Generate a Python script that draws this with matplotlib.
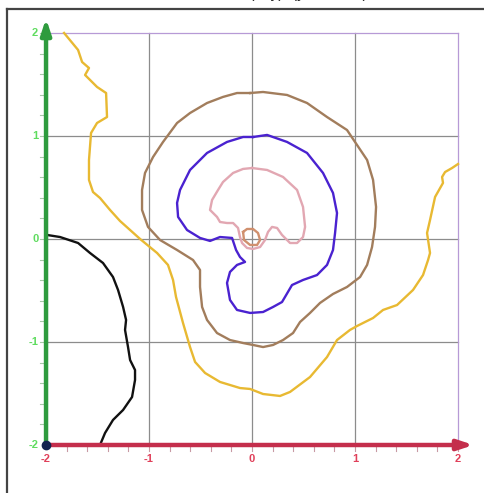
import matplotlib
matplotlib.use("Agg")
import matplotlib.pyplot as plt
from matplotlib.lines import Line2D

plt.rcParams['font.family'] = ['Liberation Sans', 'DejaVu Sans']

# ---- data: contour traces (x, y) ----
yellow_x = [-1.825, -1.689, -1.650, -1.583, -1.621, -1.505, -1.417, -1.408, -1.505, -1.563, -1.583, -1.583,
            -1.544, -1.476, -1.379, -1.282, -1.087, -0.922, -0.816, -0.767, -0.738, -0.670, -0.602, -0.553,
            -0.456, -0.311, -0.117, -0.019, 0.107, 0.272, 0.369, 0.563, 0.728, 0.825, 0.951, 1.019, 1.175,
            1.272, 1.408, 1.563, 1.660, 1.709, 1.728, 1.699, 1.728, 1.777, 1.854, 1.845, 1.874, 1.942, 2.0]
yellow_y = [2.0, 1.835, 1.718, 1.660, 1.592, 1.476, 1.417, 1.184, 1.126, 1.029, 0.767, 0.573,
            0.456, 0.398, 0.282, 0.175, 0.0, -0.136, -0.252, -0.398, -0.563, -0.816, -1.049, -1.194,
            -1.301, -1.388, -1.447, -1.456, -1.505, -1.524, -1.485, -1.340, -1.146, -0.981, -0.883, -0.845, -0.767,
            -0.689, -0.641, -0.495, -0.350, -0.204, -0.136, 0.058, 0.184, 0.408, 0.544, 0.602, 0.650, 0.689, 0.728]

black_x = [-1.990, -1.864, -1.689, -1.573, -1.447, -1.350, -1.301, -1.252, -1.223, -1.233, -1.204, -1.184,
           -1.136, -1.136, -1.165, -1.252, -1.350, -1.427, -1.476]
black_y = [0.039, 0.019, -0.039, -0.136, -0.233, -0.369, -0.495, -0.660, -0.786, -0.883, -1.049, -1.175,
           -1.272, -1.369, -1.534, -1.660, -1.757, -1.883, -2.0]

brown_x = [-0.019, 0.107, 0.340, 0.534, 0.728, 0.922, 1.019, 1.117, 1.175, 1.204, 1.194, 1.165, 1.117, 1.049,
           0.922, 0.786, 0.660, 0.563, 0.466, 0.398, 0.301, 0.204, 0.107, 0.010, -0.087, -0.214, -0.340, -0.437,
           -0.485, -0.505, -0.505, -0.573, -0.728, -0.893, -1.010, -1.068, -1.068, -1.039, -0.961, -0.864, -0.728,
           -0.602, -0.437, -0.282, -0.146, -0.019]
brown_y = [1.417, 1.427, 1.398, 1.320, 1.184, 1.058, 0.913, 0.767, 0.573, 0.311, 0.117, -0.078, -0.252, -0.369,
           -0.466, -0.534, -0.621, -0.718, -0.806, -0.913, -0.981, -1.029, -1.049, -1.029, -1.010, -0.981, -0.913, -0.786,
           -0.660, -0.466, -0.301, -0.204, -0.107, -0.010, 0.117, 0.282, 0.476, 0.641, 0.796, 0.942, 1.126,
           1.223, 1.320, 1.379, 1.417, 1.417]

blue_x = [0.010, 0.146, 0.340, 0.534, 0.689, 0.786, 0.825, 0.806, 0.786, 0.728, 0.631, 0.495, 0.388, 0.320,
          0.291, 0.204, 0.107, -0.019, -0.146, -0.214, -0.243, -0.214, -0.146, -0.068, -0.117, -0.155, -0.194,
          -0.311, -0.408, -0.505, -0.631, -0.718, -0.728, -0.699, -0.602, -0.437, -0.243, -0.087, 0.010]
blue_y = [0.990, 1.010, 0.942, 0.835, 0.641, 0.447, 0.252, 0.058, -0.107, -0.252, -0.350, -0.398, -0.447, -0.563,
          -0.612, -0.660, -0.709, -0.718, -0.689, -0.592, -0.427, -0.320, -0.252, -0.223, -0.175, -0.107, 0.010,
          0.019, -0.019, 0.010, 0.087, 0.214, 0.350, 0.476, 0.670, 0.835, 0.942, 0.990, 0.990]

pink_x = [0.0, 0.146, 0.301, 0.437, 0.495, 0.515, 0.495, 0.437, 0.369, 0.291, 0.243, 0.194, 0.155, 0.126,
          0.078, 0.010, -0.049, -0.097, -0.117, -0.136, -0.184, -0.243, -0.311, -0.340, -0.408, -0.388, -0.330,
          -0.282, -0.184, -0.087, 0.0]
pink_y = [0.689, 0.670, 0.602, 0.476, 0.311, 0.117, 0.019, -0.039, -0.039, 0.039, 0.107, 0.117, 0.068, -0.010,
          -0.078, -0.097, -0.087, -0.039, 0.019, 0.107, 0.155, 0.155, 0.165, 0.214, 0.282, 0.379, 0.476,
          0.553, 0.641, 0.680, 0.689]

core_x = [-0.087, -0.049, 0.010, 0.058, 0.078, 0.049, -0.019, -0.078, -0.087]
core_y = [0.068, 0.097, 0.097, 0.058, -0.010, -0.058, -0.058, -0.010, 0.068]

ticks = [-2, -1, 0, 1, 2]
tick_labels = ['-2', '-1', '0', '1', '2']

# ---- figure ----
fig = plt.figure(figsize=(4.84, 4.93), dpi=100)
ax = fig.add_axes([0, 0, 1, 1])
ax.set_xlim(-2.447, 2.252)
ax.set_ylim(-2.466, 2.320)
ax.axis('off')

# grid
for t in ticks[1:-1]:
    ax.plot([t, t], [-2, 2], color='#8c8c8c', lw=0.9, zorder=1)
    ax.plot([-2, 2], [t, t], color='#8c8c8c', lw=0.9, zorder=1)
ax.plot([2, 2], [-2, 2], color='#b79ad6', lw=0.9, zorder=1)
ax.plot([-2, 2], [2, 2], color='#b79ad6', lw=0.9, zorder=1)

# minor ticks
for i in range(1, 21):
    v = -2 + 0.2 * i
    ax.plot([-2.055, -2.0], [v, v], color='#a8c8a8', lw=0.8, zorder=2)
    ax.plot([v, v], [-2.0, -2.055], color='#c89aa4', lw=0.8, zorder=2)

# contours
lw = 1.7
ax.plot(yellow_x, yellow_y, color='#e8b932', lw=lw, zorder=3)
ax.plot(black_x, black_y, color='#111111', lw=lw, zorder=3)
ax.plot(brown_x, brown_y, color='#a27d5c', lw=lw, zorder=3)
ax.plot(blue_x, blue_y, color='#4a22d0', lw=lw, zorder=3)
ax.plot(pink_x, pink_y, color='#e2a7b2', lw=lw, zorder=3)
ax.plot(core_x, core_y, color='#d0906e', lw=lw, zorder=3)

# axes lines with arrows
ax.annotate('', xy=(-2, 2.14), xytext=(-2, -2),
            arrowprops=dict(arrowstyle='-|>,head_length=0.9,head_width=0.3', color='#2e9b3e', lw=3.2,
                            shrinkA=0, shrinkB=0), zorder=4)
ax.annotate('', xy=(2.15, -2), xytext=(-2, -2),
            arrowprops=dict(arrowstyle='-|>,head_length=0.9,head_width=0.3', color='#c42e4c', lw=3.2,
                            shrinkA=0, shrinkB=0), zorder=4)
ax.plot([-2], [-2], 'o', color='#13224f', ms=6, zorder=5)

# tick labels
for t, lab in zip(ticks, tick_labels):
    ax.text(-2.075, t, lab, color='#5fdc5f', fontsize=8, fontweight='bold', ha='right', va='center', zorder=5)
    ax.text(t, -2.09, lab, color='#e0405a', fontsize=8, fontweight='bold', ha='center', va='top', zorder=5)

# frame border
fig.add_artist(Line2D([6.5 / 484, 6.5 / 484], [0, 1 - 8.5 / 493], color='#444444', lw=1.6,
                      transform=fig.transFigure))
fig.add_artist(Line2D([6.5 / 484, 1], [1 - 8.5 / 493, 1 - 8.5 / 493], color='#444444', lw=1.6,
                      transform=fig.transFigure))

# cut-off title
fig.text(0.54, 1 + 2.0 / 493, 'Level curves f(x, y)  (y = const.)', ha='center', va='baseline',
         fontsize=11, color='#222222')

fig.savefig('out.png', dpi=100)
